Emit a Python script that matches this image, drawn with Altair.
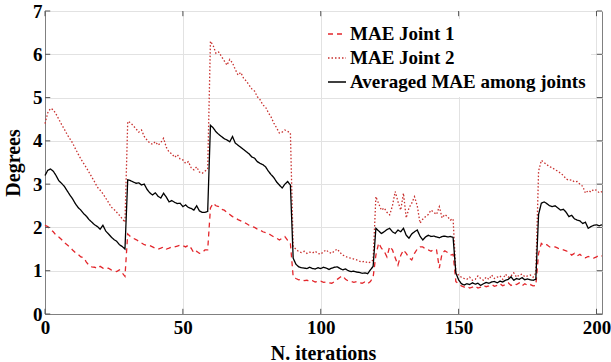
import altair as alt
import pandas as pd

iterations = list(range(0, 203))

mae_joint1 = [
    2.05, 2.02, 1.95, 1.90, 1.82, 1.78, 1.72, 1.65, 1.60, 1.55,
    1.48, 1.42, 1.38, 1.32, 1.30, 1.20, 1.12, 1.09, 1.08, 1.05,
    1.10, 1.06, 1.04, 1.06, 1.02, 1.00, 0.98, 1.02, 0.95, 0.87,
    1.85, 1.79, 1.75, 1.72, 1.68, 1.64, 1.60, 1.59, 1.58, 1.55,
    1.52, 1.50, 1.52, 1.55, 1.50, 1.52, 1.55, 1.55, 1.57, 1.59,
    1.58, 1.55, 1.59, 1.52, 1.41, 1.45, 1.40, 1.42, 1.48, 1.48,
    2.45, 2.56, 2.50, 2.48, 2.42, 2.40, 2.35, 2.30, 2.25, 2.22,
    2.18, 2.15, 2.12, 2.09, 2.05, 2.02, 2.00, 1.96, 1.94, 1.90,
    1.88, 1.86, 1.82, 1.78, 1.75, 1.71, 1.75, 1.79, 1.70, 1.63,
    0.86, 0.82, 0.79, 0.80, 0.77, 0.78, 0.75, 0.77, 0.74, 0.75,
    0.76, 0.73, 0.74, 0.72, 0.71, 0.75, 0.80, 0.85, 0.88, 0.80,
    0.76, 0.75, 0.73, 0.75, 0.72, 0.71, 0.74, 0.70, 0.75, 0.85,
    1.36, 1.64, 1.52, 1.45, 1.32, 1.56, 1.48, 1.30, 1.13, 1.35,
    1.48, 1.40, 1.30, 1.25, 1.40, 1.50, 1.55, 1.55, 1.50, 1.48,
    1.45, 1.50, 1.48, 1.06, 1.40, 1.46, 1.42, 1.36, 1.38, 0.75,
    0.70, 0.65, 0.62, 0.64, 0.60, 0.62, 0.65, 0.60, 0.62, 0.66,
    0.63, 0.65, 0.68, 0.64, 0.66, 0.70, 0.65, 0.68, 0.72, 0.66,
    0.70, 0.68, 0.72, 0.65, 0.70, 0.66, 0.68, 0.65, 0.66,
    1.40, 1.63, 1.58, 1.60, 1.55, 1.56, 1.55, 1.52, 1.50, 1.48,
    1.46, 1.42, 1.36, 1.40, 1.34, 1.38, 1.32, 1.30, 1.33, 1.30,
    1.29, 1.32, 1.36, 1.34,
]

mae_joint2 = [
    4.40, 4.65, 4.75, 4.72, 4.62, 4.50, 4.38, 4.27, 4.15, 4.05,
    3.95, 3.82, 3.70, 3.58, 3.48, 3.38, 3.27, 3.16, 3.05, 2.93,
    2.86, 2.78, 2.68, 2.58, 2.47, 2.42, 2.35, 2.28, 2.20, 2.12,
    4.45, 4.42, 4.35, 4.28, 4.20, 4.25, 4.10, 4.02, 3.95, 3.92,
    3.98, 3.90, 3.96, 4.06, 3.85, 3.74, 3.70, 3.62, 3.68, 3.58,
    3.56, 3.48, 3.52, 3.38, 3.33, 3.40, 3.28, 3.25, 3.30, 3.35,
    6.30, 6.20, 6.02, 6.05, 5.95, 5.85, 5.75, 5.88, 5.80, 5.65,
    5.52, 5.58, 5.45, 5.38, 5.29, 5.20, 5.15, 5.02, 4.95, 4.83,
    4.78, 4.65, 4.55, 4.41, 4.30, 4.18, 4.20, 4.25, 4.22, 4.18,
    1.55, 1.50, 1.44, 1.42, 1.45, 1.40, 1.43, 1.41, 1.45, 1.40,
    1.38, 1.44, 1.48, 1.42, 1.40, 1.46, 1.50, 1.42, 1.36, 1.33,
    1.30, 1.29, 1.27, 1.25, 1.22, 1.20, 1.22, 1.18, 1.20, 1.25,
    2.71, 2.55, 2.40, 2.45, 2.35, 2.29, 2.50, 2.83, 2.60, 2.40,
    2.79, 2.22, 2.45, 2.56, 2.71, 2.50, 2.10, 2.19, 2.25, 2.30,
    2.40, 2.35, 2.30, 2.48, 2.22, 2.30, 2.25, 2.17, 2.20, 0.95,
    0.90, 0.85, 0.82, 0.80, 0.85, 0.78, 0.80, 0.88, 0.82, 0.78,
    0.85, 0.80, 0.90, 0.82, 0.85, 0.88, 0.80, 0.92, 0.85, 0.88,
    0.95, 0.85, 0.90, 0.92, 0.86, 0.88, 0.90, 0.85, 0.95,
    3.30, 3.55, 3.50, 3.45, 3.40, 3.38, 3.33, 3.30, 3.25, 3.20,
    3.12, 3.09, 3.10, 3.05, 3.06, 3.00, 2.95, 2.79, 2.85, 2.82,
    2.88, 2.86, 2.80, 2.83,
]

mae_avg = [
    3.20, 3.32, 3.35, 3.30, 3.20, 3.08, 3.02, 2.95, 2.85, 2.75,
    2.66, 2.55, 2.46, 2.40, 2.32, 2.26, 2.18, 2.12, 2.06, 2.02,
    1.96, 2.05, 1.92, 1.85, 1.78, 1.72, 1.68, 1.60, 1.56, 1.50,
    3.10, 3.08, 3.05, 3.02, 3.03, 2.98, 3.00, 2.88, 2.80, 2.75,
    2.80, 2.72, 2.68, 2.79, 2.70, 2.59, 2.62, 2.58, 2.55, 2.56,
    2.48, 2.52, 2.46, 2.44, 2.40, 2.50, 2.38, 2.35, 2.35, 2.37,
    4.36, 4.30, 4.21, 4.15, 4.10, 4.05, 4.02, 3.98, 4.10, 3.95,
    3.90, 3.85, 3.80, 3.75, 3.70, 3.63, 3.60, 3.52, 3.48, 3.45,
    3.40, 3.30, 3.22, 3.15, 3.05, 2.98, 2.91, 3.00, 3.06, 2.98,
    1.29, 1.15, 1.09, 1.07, 1.06, 1.05, 1.08, 1.05, 1.04, 1.07,
    1.05, 1.08, 1.06, 1.03, 1.06, 1.08, 1.09, 1.05, 1.02, 1.04,
    1.00, 0.98, 0.99, 0.97, 0.96, 0.94, 0.95, 0.93, 1.02, 1.10,
    1.98, 1.92, 1.86, 1.90, 1.95, 1.98, 1.90, 1.86, 1.94, 1.90,
    1.98, 1.82, 1.75, 1.85, 1.90, 1.94, 1.80, 1.71, 1.78, 1.82,
    1.79, 1.80, 1.78, 1.76, 1.79, 1.80, 1.78, 1.79, 1.77, 0.95,
    0.79, 0.70, 0.67, 0.70, 0.68, 0.72, 0.69, 0.71, 0.66, 0.70,
    0.73, 0.71, 0.74, 0.75, 0.72, 0.76, 0.74, 0.78, 0.80, 0.86,
    0.78, 0.82, 0.80, 0.84, 0.79, 0.81, 0.79, 0.78, 0.80,
    2.30, 2.56, 2.59, 2.55, 2.50, 2.48, 2.50, 2.45, 2.40, 2.42,
    2.35, 2.25, 2.28, 2.20, 2.17, 2.15, 2.09, 2.12, 1.98, 2.02,
    2.05, 2.06, 2.04, 2.06,
]

series_names = ["MAE Joint 1", "MAE Joint 2", "Averaged MAE among joints"]
x_ticks = [0, 50, 100, 150, 200]
y_ticks = [0, 1, 2, 3, 4, 5, 6, 7]

assert len(mae_joint1) == len(iterations)
assert len(mae_joint2) == len(iterations)
assert len(mae_avg) == len(iterations)

rows = []
for name, vals in zip(series_names, [mae_joint1, mae_joint2, mae_avg]):
    for i, v in zip(iterations, vals):
        rows.append({"iter": i, "value": v, "series": name})
df = pd.DataFrame(rows)

X_MIN, X_MAX = 0, 202
Y_MIN, Y_MAX = 0, 7
xlen = 1.9   # inward tick length in x data units
ylen = 0.12  # inward tick length in y data units

ytick_df = pd.DataFrame(
    [{"iter": X_MIN, "iter2": X_MIN + xlen, "value": t} for t in y_ticks]
    + [{"iter": X_MAX - xlen, "iter2": X_MAX, "value": t} for t in y_ticks]
)
xtick_df = pd.DataFrame(
    [{"iter": t, "value": Y_MIN, "value2": Y_MIN + ylen} for t in x_ticks]
    + [{"iter": t, "value": Y_MAX - ylen, "value2": Y_MAX} for t in x_ticks]
)

FONT = "Liberation Serif"
xscale = alt.Scale(domain=[X_MIN, X_MAX], nice=False, zero=False)
yscale = alt.Scale(domain=[Y_MIN, Y_MAX], nice=False)

x_axis = alt.Axis(
    values=x_ticks,
    title="N. iterations",
    labelFlush=False,
    labelPadding=4,
    titleX=278,
    titleY=39,
    titleAlign="center",
    titleBaseline="middle",
)
y_axis = alt.Axis(
    values=y_ticks,
    title="Degrees",
    labelPadding=3,
    titleX=-32,
    titleY=151.5,
    titleAngle=270,
    titleAlign="center",
    titleBaseline="middle",
)

legend_cfg = alt.Legend(
    title=None,
    orient="none",
    legendX=277,
    legendY=8,
    padding=5,
    fillColor="white",
    labelFont=FONT,
    labelFontSize=19,
    labelFontWeight="bold",
    labelColor="black",
    labelLimit=400,
    labelOffset=3,
    rowPadding=4,
    symbolType="stroke",
    symbolSize=324,
    symbolStrokeWidth=1.5,
)

lines = alt.Chart(df).mark_line(strokeWidth=1.3).encode(
    x=alt.X("iter:Q", scale=xscale, axis=x_axis),
    y=alt.Y("value:Q", scale=yscale, axis=y_axis),
    color=alt.Color(
        "series:N",
        scale=alt.Scale(domain=series_names, range=["#e3262b", "#c8302e", "#000000"]),
        legend=legend_cfg,
    ),
    strokeDash=alt.StrokeDash(
        "series:N",
        scale=alt.Scale(domain=series_names, range=[[5, 4], [1.5, 2], [1, 0]]),
        legend=legend_cfg,
    ),
)

yticks = alt.Chart(ytick_df).mark_rule(color="#555555", strokeWidth=1).encode(
    x=alt.X("iter:Q", scale=xscale, axis=x_axis),
    x2="iter2:Q",
    y=alt.Y("value:Q", scale=yscale, axis=y_axis),
)
xticks = alt.Chart(xtick_df).mark_rule(color="#555555", strokeWidth=1).encode(
    x=alt.X("iter:Q", scale=xscale, axis=x_axis),
    y=alt.Y("value:Q", scale=yscale, axis=y_axis),
    y2="value2:Q",
)

chart = (
    alt.layer(lines, yticks, xticks)
    .properties(
        width=557,
        height=303,
        padding={"left": 45, "top": 11, "right": 9, "bottom": 48},
        autosize=alt.AutoSizeParams(type="none"),
        background="white",
    )
    .configure_view(stroke="#808080", strokeWidth=1)
    .configure_axis(
        gridColor="#e2e2e2",
        gridWidth=1,
        domainColor="#808080",
        ticks=False,
        labelFont=FONT,
        labelFontSize=19,
        labelFontWeight="bold",
        labelColor="black",
        titleFont=FONT,
        titleFontSize=20,
        titleFontWeight="bold",
        titleColor="black",
    )
)

chart.save("out.html", embed_options={"renderer": "svg", "actions": False})
